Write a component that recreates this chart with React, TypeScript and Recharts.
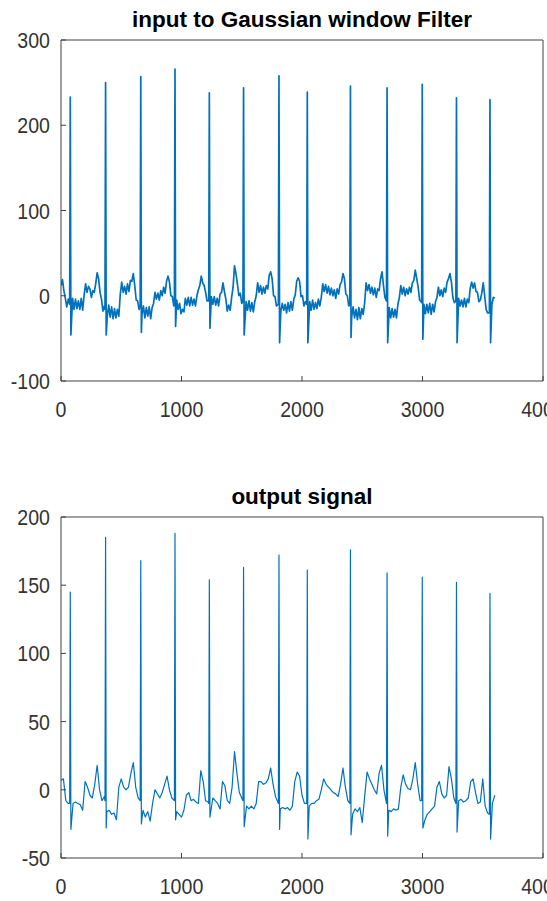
import React from 'react';
import { LineChart, Line, XAxis, YAxis } from 'recharts';

// sample index of each R peak (same beats in both panels)
const beatX = [77, 370, 662, 946, 1231, 1515, 1809, 2044, 2402, 2706, 2998, 3282, 3560];

// input signal, one value every 12 samples (noisy baseline between beats)
const inputStep = 12;
const inputBase = [
  12, 19, 6, -3, -13, -4, -10, -14, -3, -16,
  -4, -15, -6, -16, -3, -17, 1, 14, 4, 11,
  8, -2, 6, 4, 14, 27, 20, 4, -4, -18,
  -12, -20, -24, -11, -25, -13, -27, -15, -26, -16,
  -24, 2, 16, 4, 11, 2, 14, 5, 18, 17,
  26, 12, -5, -6, -16, -12, -22, -12, -26, -14,
  -24, -13, -27, -14, -9, 4, -4, 3, -5, 6,
  0, 10, 3, 17, 23, 16, 0, -1, -12, -10,
  -5, -16, -9, -21, -16, -19, -3, -11, -2, -12,
  -2, -11, -4, -12, 0, 7, 12, 23, 15, 12,
  4, -6, -5, -5, -1, -10, -1, -11, -3, -12,
  2, 4, 15, 5, -4, -18, -11, -17, -2, 10,
  35, 26, 14, 0, 3, -9, -8, -10, -7, -17,
  -6, -18, -8, -19, -7, 0, 15, 4, 12, 2,
  10, 3, 12, 8, 24, 28, 20, 0, -1, -12,
  -10, -10, -18, -9, -17, -10, -20, -8, -18, -7,
  -17, -4, 1, 17, 21, 17, -1, 0, -12, -7,
  -10, -12, -7, -17, -5, -16, -8, -15, -4, -12,
  -2, 14, 5, 13, 3, 11, 1, 9, 0, 7,
  -3, 8, 2, 13, 16, 26, 20, 2, 0, -12,
  -14, -25, -13, -26, -16, -28, -14, -27, -15, -22,
  -8, 15, 6, 13, 3, 10, 1, 9, -2, 8,
  6, 20, 28, 12, -2, -10, -18, -14, -26, -15,
  -25, -16, -26, -10, -2, 12, 2, 10, 0, 8,
  2, 10, 4, 15, 18, 30, 20, 10, -5, -7,
  -12, -10, -21, -10, -20, -9, -22, -10, -19, -7,
  -2, 10, 0, 7, -1, 9, 4, 16, 20, 26,
  16, -2, -8, -8, -8, -3, -12, -5, -13, -3,
  -13, -4, -8, 9, 16, 9, 15, 5, 4, -7,
  -5, 3, 15, 0, -16, -20, -18, -15, -10, -2,
  -3,
];
const inputQ = [-10, -16, -12, -8, -6, -6, -10, -10, -10, -6, -8, -6, -20];
const inputR = [233, 250, 257, 266, 238, 244, 258, 239, 246, 244, 248, 232, 230];
const inputS = [-46, -46, -43, -36, -38, -46, -55, -55, -49, -55, -51, -55, -55];

// output signal, one value every 20 samples
const outputStep = 20;
const outputBase = [
  7, 8, -8, -10, -10, -10, -9, -10, -11, -15,
  6, 2, -4, -6, 4, 18, 0, -8, -5, -16,
  -15, -18, -17, -22, 2, 8, 2, 0, 2, 12,
  20, 2, -6, -6, -15, -20, -16, -23, -10, 0,
  -3, -6, -2, 4, 10, 0, -6, -6, -16, -18,
  -20, -15, -4, -2, -8, -7, -9, -10, 14, 6,
  -8, -9, -8, -6, -8, -10, -14, 6, 3, -8,
  -10, 2, 28, 12, -2, -6, -10, -12, -14, -12,
  -14, -10, 6, 6, 4, 5, 8, 16, 4, -5,
  -8, -14, -13, -14, -13, -15, -12, 6, 13, 10,
  -4, -10, -10, -12, -10, -10, -8, -7, 0, 8,
  4, 2, 0, -2, -3, -5, 4, 16, 2, -8,
  -10, -18, -14, -16, -13, -24, -5, 13, 8, 4,
  0, -3, 12, 18, 0, -10, -15, -16, -14, -15,
  -14, 2, 11, 4, 1, 0, 8, 20, 4, -8,
  -10, -22, -18, -16, -14, -12, 2, 6, -3, -6,
  -4, 17, 8, -6, -10, -8, -7, -9, -8, -6,
  6, 8, -2, -10, -9, 8, -12, -17, -10, -10,
  -4,
];
const outputQ = [-10, -8, -8, -8, -10, -8, -10, -10, -10, -10, -8, -10, -18];
const outputR = [145, 185, 168, 188, 154, 163, 172, 161, 176, 159, 156, 152, 144];
const outputS = [-29, -28, -25, -22, -20, -27, -29, -36, -33, -34, -28, -31, -36];

const xTicks = [0, 1000, 2000, 3000, 4000];
const inputTicks = [-100, 0, 100, 200, 300];
const outputTicks = [-50, 0, 50, 100, 150, 200];

const FONT = '"Liberation Sans", Arial, Helvetica, sans-serif';
const LINE = '#0072BD';
const AXIS = '#404040';

// merge the baseline samples with the Q/R/S points of every beat
function buildSeries(base: number[], step: number, q: number[], r: number[], s: number[]) {
  const pts: { x: number; y: number }[] = [];
  base.forEach((v, i) => {
    const x = i * step;
    if (beatX.some((b) => Math.abs(x - b) < 10)) return;
    pts.push({ x, y: v });
  });
  beatX.forEach((b, k) => {
    pts.push({ x: b - 5, y: q[k] }, { x: b, y: r[k] }, { x: b + 5, y: s[k] });
  });
  return pts.sort((a, b) => a.x - b.x);
}

const inputData = buildSeries(inputBase, inputStep, inputQ, inputR, inputS);
const outputData = buildSeries(outputBase, outputStep, outputQ, outputR, outputS);

function XTick({ x, y, payload }: any) {
  return (
    <g transform={`translate(${x},${y}) scale(0.89,1)`}>
      <text x={0} y={36} textAnchor="middle" fontSize={22} fontFamily={FONT} fill="#333">
        {payload.value}
      </text>
    </g>
  );
}

function YTick({ x, y, payload }: any) {
  return (
    <g transform={`translate(${x - 11},${y}) scale(0.89,1)`}>
      <text x={0} y={8} textAnchor="end" fontSize={22} fontFamily={FONT} fill="#333">
        {payload.value}
      </text>
    </g>
  );
}

function Panel({ title, data, domain, ticks, height, marginTop, marginBottom, titleTop, lineWidth }: any) {
  return (
    <div style={{ position: 'relative', width: 547, height }}>
      <div
        style={{
          position: 'absolute',
          left: 61,
          width: 482,
          top: titleTop,
          textAlign: 'center',
          font: `bold 22.5px/22.5px ${FONT}`,
          color: '#000',
          whiteSpace: 'nowrap',
        }}
      >
        {title}
      </div>
      <LineChart
        width={547}
        height={height}
        data={data}
        margin={{ top: marginTop, right: 3, bottom: marginBottom, left: 0 }}
      >
        <XAxis
          dataKey="x"
          type="number"
          domain={[0, 4000]}
          ticks={xTicks}
          interval={0}
          allowDataOverflow
          height={30}
          tickSize={-5}
          tickMargin={5}
          stroke={AXIS}
          tick={<XTick />}
        />
        <XAxis
          xAxisId="top"
          orientation="top"
          type="number"
          domain={[0, 4000]}
          ticks={xTicks}
          interval={0}
          allowDataOverflow
          height={1}
          tickSize={-5}
          stroke={AXIS}
          tick={false}
        />
        <YAxis
          type="number"
          domain={domain}
          ticks={ticks}
          interval={0}
          allowDataOverflow
          width={61}
          tickSize={-5}
          tickMargin={5}
          stroke={AXIS}
          tick={<YTick />}
        />
        <YAxis
          yAxisId="right"
          orientation="right"
          type="number"
          domain={domain}
          ticks={ticks}
          interval={0}
          allowDataOverflow
          width={1}
          tickSize={-5}
          stroke={AXIS}
          tick={false}
        />
        <Line
          dataKey="y"
          type="linear"
          stroke={LINE}
          strokeWidth={lineWidth}
          strokeLinejoin="round"
          dot={false}
          activeDot={false}
          isAnimationActive={false}
        />
      </LineChart>
    </div>
  );
}

export default function App() {
  return (
    <div style={{ position: 'absolute', left: 0, top: 0, width: 547, height: 901, background: '#fff' }}>
      <Panel
        title="input to Gaussian window Filter"
        data={inputData}
        domain={[-100, 300]}
        ticks={inputTicks}
        height={450}
        marginTop={39}
        marginBottom={39}
        titleTop={9}
        lineWidth={1.7}
      />
      <Panel
        title="output signal"
        data={outputData}
        domain={[-50, 200]}
        ticks={outputTicks}
        height={451}
        marginTop={66}
        marginBottom={13}
        titleTop={36}
        lineWidth={1.2}
      />
    </div>
  );
}
